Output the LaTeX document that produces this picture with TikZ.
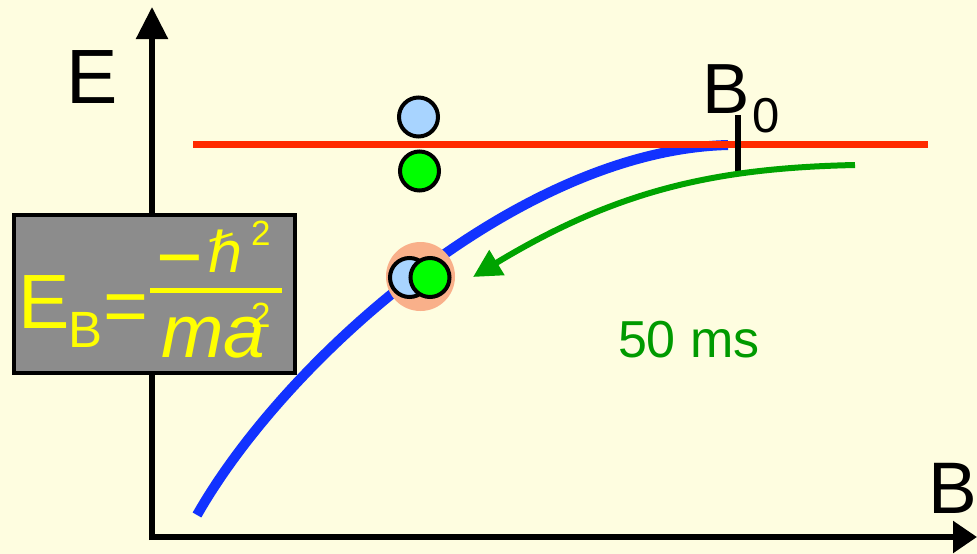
\documentclass[tikz,border=0pt]{standalone}
\usepackage{fontspec}
\setmainfont{Liberation Sans}
\newfontfamily\djv{DejaVu Sans}
\usetikzlibrary{arrows.meta}
\definecolor{bg}{HTML}{FEFDE0}
\definecolor{redline}{HTML}{FF2A00}
\definecolor{bluecurve}{HTML}{1232FF}
\definecolor{greenarrow}{HTML}{00A300}
\definecolor{greytext}{HTML}{009A00}
\definecolor{boxgrey}{HTML}{8C8C8C}
\definecolor{fyellow}{HTML}{FFFF00}
\definecolor{lblue}{HTML}{A8D4FF}
\definecolor{lgreen}{HTML}{00FF00}
\definecolor{halo}{HTML}{F9B08A}
\newcommand{\fsz}[1]{\fontsize{#1}{#1}\selectfont}
\begin{document}
\begin{tikzpicture}[x=1pt,y=-1pt,
  lbl/.style={inner sep=0pt, outer sep=0pt, anchor=base west},
  particle/.style={circle, draw=black, line width=4pt, inner sep=0pt, minimum size=39pt},
  axisline/.style={draw=black, line width=5.5pt}]
\useasboundingbox (0,0) rectangle (977,554);
\fill[bg] (0,0) rectangle (977,554);
% axes
\coordinate (O) at (152,540);
\coordinate (Ytip) at (152,7);
\coordinate (Xo) at (149,537);
\coordinate (Xtip) at (977,537);
\draw[axisline, -{Triangle[length=32pt,width=31pt]}] (O) -- (Ytip);
\draw[axisline, -{Triangle[length=24pt,width=31pt]}] (Xo) -- (Xtip);
% formula box
\node[draw=black, fill=boxgrey, line width=4.5pt, minimum width=281pt, minimum height=158pt, inner sep=0pt] (box) at (154.5,294) {};
\node[lbl, text=fyellow, font=\fsz{77}] (fE) at (19,328) {E};
\node[lbl, text=fyellow, font=\fsz{51}] (fB) at (68,347) {B};
\node[lbl, text=fyellow, font=\fsz{77}] (feq) at (103,332) {=};
\coordinate (barL) at (150,290.5);
\coordinate (barR) at (282,290.5);
\draw[fyellow, line width=5pt] (barL) -- (barR);
\node[lbl, text=fyellow, font=\fsz{80}] (fminus) at (156,284) {−};
\node[lbl, text=fyellow, font=\djv\itshape\fsz{56}] (fhbar) at (207,272) {ℏ};
\node[lbl, text=fyellow, font=\fsz{35}] (ftwo) at (251,245) {2};
\node[lbl, text=fyellow, font=\itshape\fsz{75}] (fma) at (161,357) {ma};
\node[lbl, text=fyellow, font=\fsz{35}] (ftwob) at (251,327) {2};
% curves
\coordinate (Bs) at (197,515);
\coordinate (Be) at (728,145);
\draw[bluecurve, line width=10pt] (Bs) .. controls (285,360) and (520,150) .. (Be);
\coordinate (Rl) at (193,144);
\coordinate (Rr) at (928,144);
\draw[redline, line width=7pt] (Rl) -- (Rr);
\coordinate (Tt) at (738,115);
\coordinate (Tb) at (738,176);
\draw[black, line width=5.5pt] (Tt) -- (Tb);
\coordinate (Gs) at (855,165);
\coordinate (Gt) at (473,277);
\draw[greenarrow, line width=6pt, -{Triangle[length=28pt,width=28pt]}] (Gs) .. controls (720,168) and (620,188) .. (Gt);
% particles
\node[particle, fill=lblue] (p1) at (418.5,117) {};
\node[particle, fill=lgreen] (p2) at (419.5,171) {};
\node[circle, fill=halo, inner sep=0pt, minimum size=69pt] (h) at (420.5,276.5) {};
\node[particle, fill=lblue] (p3) at (409.5,277.5) {};
\node[particle, fill=lgreen] (p4) at (430,277.5) {};
% labels
\node[lbl, font=\fsz{77}] (Elbl) at (66,103) {E};
\node[lbl, font=\fsz{71}] (B0) at (702,113) {B};
\node[lbl, font=\fsz{49}] (B0sub) at (752,132) {0};
\node[lbl, font=\fsz{73}] (Blbl) at (928,513) {B};
\node[lbl, text=greytext, font=\fsz{52}] (ms) at (618,357) {50 ms};
\end{tikzpicture}
\end{document}
